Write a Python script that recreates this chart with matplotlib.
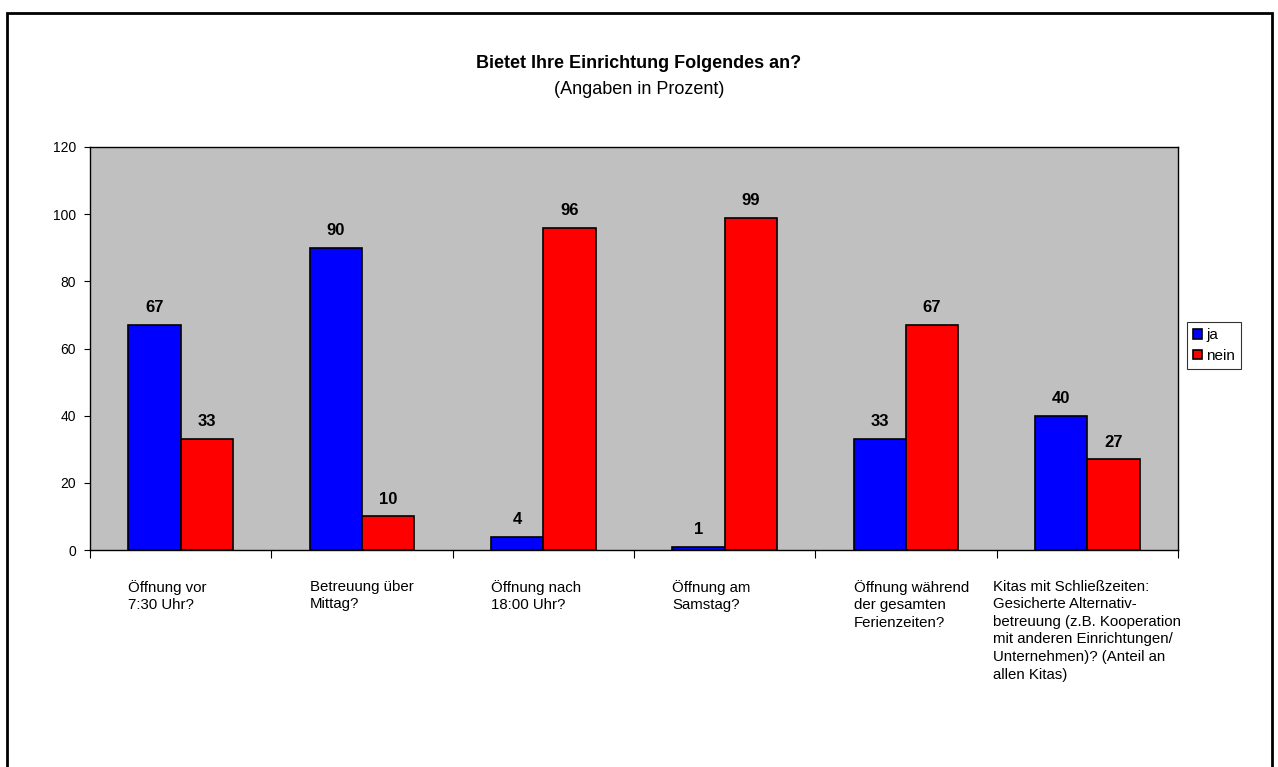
import matplotlib.pyplot as plt
import matplotlib.patches as mpatches
import numpy as np

plt.rcParams['font.family'] = ['Liberation Sans', 'DejaVu Sans']

categories = [
    "Öffnung vor\n7:30 Uhr?",
    "Betreuung über\nMittag?",
    "Öffnung nach\n18:00 Uhr?",
    "Öffnung am\nSamstag?",
    "Öffnung während\nder gesamten\nFerienzeiten?",
    "Kitas mit Schließzeiten:\nGesicherte Alternativ-\nbetreuung (z.B. Kooperation\nmit anderen Einrichtungen/\nUnternehmen)? (Anteil an\nallen Kitas)",
]
ja = [67, 90, 4, 1, 33, 40]
nein = [33, 10, 96, 99, 67, 27]
series_names = ["ja", "nein"]

fig = plt.figure(figsize=(12.78, 7.67), dpi=100)
ax = fig.add_axes([90 / 1278, 1 - 550 / 767, 1088 / 1278, 403 / 767])
ax.set_facecolor("#C0C0C0")

x = np.arange(len(categories))
w = 0.288
b1 = ax.bar(x - w / 2, ja, w, color="#0000FF", edgecolor="black", linewidth=1.2, label=series_names[0])
b2 = ax.bar(x + w / 2, nein, w, color="#FF0000", edgecolor="black", linewidth=1.2, label=series_names[1])

# value labels above each bar
for bars in (b1, b2):
    for r in bars:
        h = r.get_height()
        ax.annotate(f"{h:g}", (r.get_x() + r.get_width() / 2, h), xytext=(0, 7),
                    textcoords="offset points", ha="center", va="bottom",
                    fontsize=12, fontweight="bold")

ax.set_xlim(-0.5, len(categories) - 0.5)
ax.set_ylim(0, 120)
ax.set_yticks(range(0, 121, 20))
ax.tick_params(axis="y", direction="out", length=4, labelsize=10, pad=6)
ax.set_xticks(np.arange(-0.5, len(categories) + 0.5, 1))
ax.set_xticklabels([])
ax.tick_params(axis="x", direction="out", length=6)
for s in ax.spines.values():
    s.set_linewidth(1.0)

# category text below the axis, lines left-aligned
for i, lab in enumerate(categories):
    if i < len(categories) - 1:
        ax.text(i - w, -8.8, lab, ha="left", va="top", fontsize=10.8,
                linespacing=1.33, transform=ax.transData)
    else:
        ax.text(i, -8.8, lab, ha="center", va="top", fontsize=10.8,
                linespacing=1.33, multialignment="left", transform=ax.transData)

fig.text(0.5, 1 - 63 / 767, "Bietet Ihre Einrichtung Folgendes an?", ha="center",
         va="center", fontsize=13, fontweight="bold")
fig.text(0.5, 1 - 89 / 767, "(Angaben in Prozent)", ha="center", va="center", fontsize=13)

leg = fig.legend(handles=[b1, b2], labels=series_names, loc="upper left",
                 bbox_to_anchor=(1187 / 1278, 1 - 322 / 767), fontsize=11,
                 frameon=True, fancybox=False, edgecolor="black",
                 handlelength=0.6, handleheight=0.6, handletextpad=0.25,
                 borderpad=0.4, labelspacing=0.45, borderaxespad=0)
leg.get_frame().set_linewidth(0.8)

# outer chart frame (bottom edge runs off the page)
fig.patches.append(mpatches.Rectangle((7 / 1278, -0.05), 1265 / 1278, 1.05 - 13 / 767,
                                      transform=fig.transFigure, fill=False,
                                      edgecolor="black", linewidth=2))

fig.savefig("out.png", dpi=100)
